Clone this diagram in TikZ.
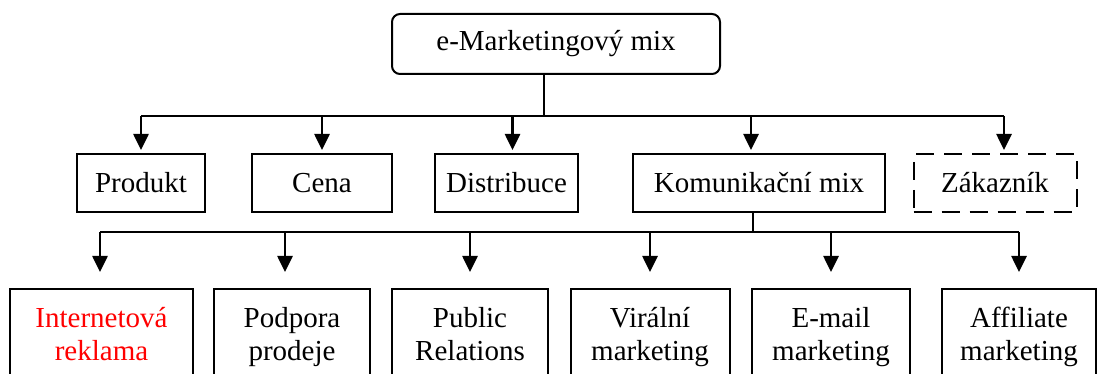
\documentclass[tikz,border=0pt]{standalone}
\usepackage{fontspec}
\setmainfont{Liberation Serif}
\usetikzlibrary{arrows.meta,positioning,calc}
\definecolor{cred}{HTML}{FF0000}
\tikzset{
  box/.style={draw, line width=1pt, minimum height=29pt, inner sep=0pt, font=\fontsize{14.5}{16.5}\selectfont, align=center},
  topbox/.style={box, rounded corners=4pt, minimum height=30pt},
  dashbox/.style={box, dash pattern=on 9pt off 5pt},
  lowbox/.style={box, anchor=north, inner xsep=0pt, inner ysep=7.5pt},
  bus/.style={line width=1pt},
  stem/.style={line width=0.7pt},
  arr/.style={-{Triangle[length=8pt,width=7.5pt]}, line width=1.3pt},
}
\begin{document}
\begin{tikzpicture}[x=0.5pt, y={(0pt,-0.5pt)}]
\useasboundingbox (0,0) rectangle (1099,374);
\clip (0,0) rectangle (1099,374);
% top level
\node[topbox, minimum width=164pt] (mix) at (556,44) {e-Marketingový mix};
% middle row
\node[box, minimum width=64pt] (produkt) at (141,183) {Produkt};
\node[box, minimum width=70pt] (cena) at (322,183) {Cena};
\node[box, minimum width=71.5pt] (distribuce) at (506.5,183) {Distribuce};
\node[box, minimum width=126pt] (komunikace) at (759,183) {Komunikační mix};
\node[dashbox, minimum width=81.5pt] (zakaznik) at (995,183) {Zákazník};
% bottom row
\node[lowbox, minimum width=91.5pt, text=cred] (reklama) at (101.5,288) {Internetová\strut\\reklama\strut};
\node[lowbox, minimum width=78pt] (podpora) at (292,288) {Podpora\strut\\prodeje\strut};
\node[lowbox, minimum width=78pt] (pr) at (470,288) {Public\strut\\Relations\strut};
\node[lowbox, minimum width=79.5pt] (viral) at (650,288) {Virální\strut\\marketing\strut};
\node[lowbox, minimum width=79pt] (email) at (831,288) {E-mail\strut\\marketing\strut};
\node[lowbox, minimum width=77pt] (affiliate) at (1019,288) {Affiliate\strut\\marketing\strut};
% buses
\coordinate (b1) at (544,116);
\coordinate (b2) at (753,232);
\coordinate (ka) at ([xshift=-4pt]komunikace.north);
\coordinate (za) at ([xshift=4.5pt]zakaznik.north);
\coordinate (da) at ([xshift=3pt]distribuce.north);
\coordinate (pa) at ([xshift=-3.5pt]podpora.north);
\coordinate (ra) at ([xshift=-0.75pt]reklama.north);
\draw[stem] (b1 |- mix.south) -- (b1);
\draw[bus] (produkt.north |- b1) -- (za |- b1);
\draw[arr] (produkt.north |- b1) -- ([yshift=1.5pt]produkt.north);
\draw[arr] (cena.north |- b1) -- ([yshift=1.5pt]cena.north);
\draw[arr] (da |- b1) -- ([yshift=1.5pt]da);
\draw[arr] (ka |- b1) -- ([yshift=1.5pt]ka);
\draw[arr] (za |- b1) -- ([yshift=1.5pt]za);
\draw[stem] (b2 |- komunikace.south) -- (b2);
\draw[bus] (ra |- b2) -- (affiliate.north |- b2);
\draw[arr] (ra |- b2) -- ([yshift=8pt]ra);
\draw[arr] (pa |- b2) -- ([yshift=8pt]pa);
\draw[arr] (pr.north |- b2) -- ([yshift=8pt]pr.north);
\draw[arr] (viral.north |- b2) -- ([yshift=8pt]viral.north);
\draw[arr] (email.north |- b2) -- ([yshift=8pt]email.north);
\draw[arr] (affiliate.north |- b2) -- ([yshift=8pt]affiliate.north);
\end{tikzpicture}
\end{document}
